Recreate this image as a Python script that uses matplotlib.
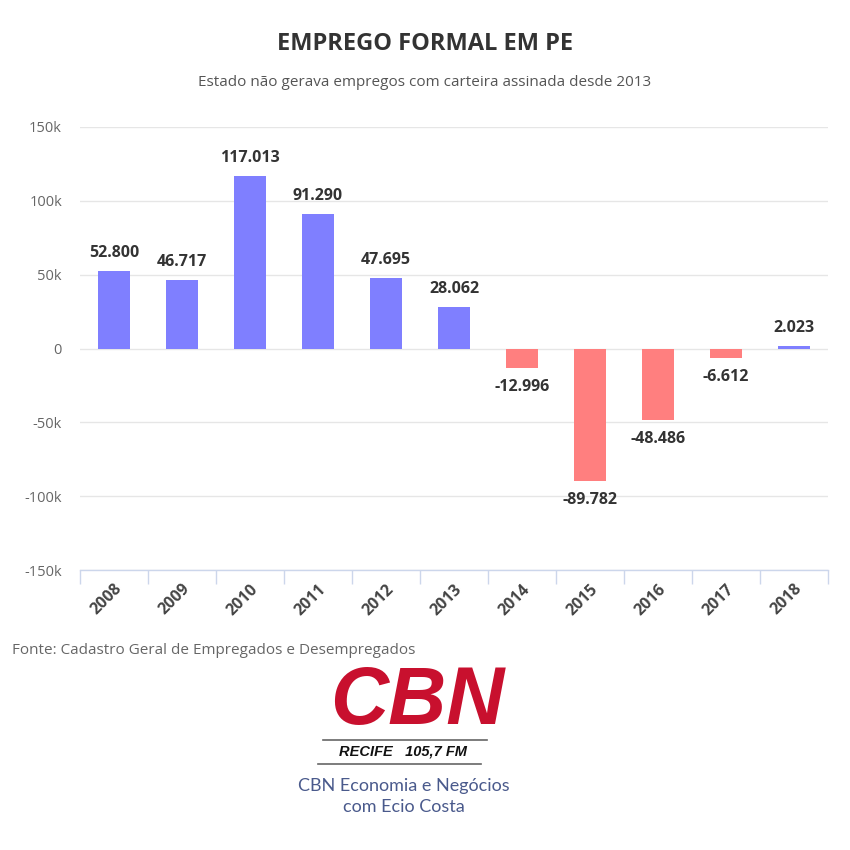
import matplotlib
matplotlib.use("Agg")
import matplotlib.pyplot as plt
from matplotlib.lines import Line2D

plt.rcParams['font.family'] = ['Open Sans', 'DejaVu Sans']

years = ['2008', '2009', '2010', '2011', '2012', '2013', '2014', '2015', '2016', '2017', '2018']
values = [52800, 46717, 117013, 91290, 47695, 28062, -12996, -89782, -48486, -6612, 2023]
labels = ['52.800', '46.717', '117.013', '91.290', '47.695', '28.062', '-12.996', '-89.782', '-48.486', '-6.612', '2.023']
yticks = [-150000, -100000, -50000, 0, 50000, 100000, 150000]
ytick_labels = ['-150k', '-100k', '-50k', '0', '50k', '100k', '150k']

BLUE = '#7f7fff'
RED = '#ff7f7f'

fig = plt.figure(figsize=(8.5, 8.5), dpi=100)
fig.patch.set_facecolor('white')
ax = fig.add_axes([80/850, 1-570/850, 748/850, 443/850])

x = list(range(len(years)))
colors = [BLUE if v >= 0 else RED for v in values]
ax.bar(x, values, width=0.47, color=colors, zorder=3)

for xi, v, lab in zip(x, values, labels):
    if v >= 0:
        ax.annotate(lab, (xi, v), xytext=(0, 7), textcoords='offset points',
                    ha='center', va='bottom', fontsize=11.5, fontweight='bold', color='#333333')
    else:
        ax.annotate(lab, (xi, v), xytext=(0, -8), textcoords='offset points',
                    ha='center', va='top', fontsize=11.5, fontweight='bold', color='#333333')

ax.set_xlim(-0.5, len(years) - 0.5)
ax.set_ylim(-150000, 150000)
ax.set_yticks(yticks)
ax.set_yticklabels(ytick_labels, fontsize=10.5, color='#666666')
ax.yaxis.grid(True, color='#e6e6e6', linewidth=1, zorder=0)
ax.tick_params(axis='y', length=0, pad=13)

ax.set_xticks(x)
ax.set_xticklabels(years, rotation=45, ha='right', rotation_mode='anchor', fontsize=11.5,
                   fontweight='bold', color='#444444')
ax.set_xticks([i - 0.5 for i in range(len(years) + 1)], minor=True)
ax.tick_params(axis='x', which='major', length=0, pad=8)
ax.tick_params(axis='x', which='minor', length=10, color='#ccd6eb', width=1)

for s in ['top', 'right', 'left']:
    ax.spines[s].set_visible(False)
ax.spines['bottom'].set_color('#ccd6eb')
ax.spines['bottom'].set_linewidth(1)

fig.text(0.5, 1-44/850, 'EMPREGO FORMAL EM PE', ha='center', va='center',
         fontsize=17, fontweight='bold', color='#333333')
fig.text(0.5, 1-83/850, 'Estado não gerava empregos com carteira assinada desde 2013',
         ha='center', va='center', fontsize=11, color='#555555')
fig.text(12/850, 1-651/850, 'Fonte: Cadastro Geral de Empregados e Desempregados',
         ha='left', va='center', fontsize=11, color='#666666')

# CBN logo block
fig.text(417/850, 1-703/850, 'CBN', ha='center', va='center', fontsize=58,
         fontweight='bold', style='italic', color='#c8102e', family=['Liberation Sans', 'DejaVu Sans'])
fig.add_artist(Line2D([323/850, 487/850], [1-740/850, 1-740/850], color='#666666', linewidth=1.2))
fig.text(403/850, 1-751/850, 'RECIFE   105,7 FM', ha='center', va='center', fontsize=10.5,
         fontweight='bold', style='italic', color='#111111', family=['Liberation Sans', 'DejaVu Sans'])
fig.add_artist(Line2D([318/850, 481/850], [1-764/850, 1-764/850], color='#666666', linewidth=1.2))
fig.text(404/850, 1-786/850, 'CBN Economia e Negócios', ha='center', va='center',
         fontsize=13, color='#4a5a8c', family=['Lato', 'DejaVu Sans'])
fig.text(404/850, 1-807/850, 'com Ecio Costa', ha='center', va='center',
         fontsize=13, color='#4a5a8c', family=['Lato', 'DejaVu Sans'])

fig.savefig('out.png', dpi=100, facecolor='white')
